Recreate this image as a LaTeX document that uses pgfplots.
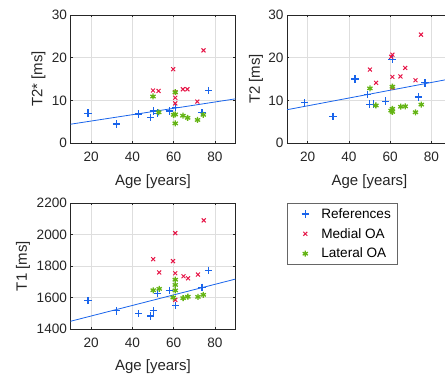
\documentclass[border=0pt]{standalone}
\usepackage{pgfplots}
\pgfplotsset{compat=1.18}
\usepackage{fontspec}
\setmainfont{Liberation Sans}
\definecolor{cref}{RGB}{25,100,235}
\definecolor{cmed}{RGB}{230,20,70}
\definecolor{clat}{RGB}{100,180,20}
\definecolor{axc}{RGB}{38,38,38}
\pgfplotsset{
  myax/.style={
    scale only axis, width=165pt, height=128pt,
    xmin=10, xmax=90, xtick={20,40,60,80},
    anchor=south west,
    grid=major, major grid style={black!13, line width=0.6pt},
    axis line style={axc, line width=0.6pt},
    tick style={axc, line width=0.6pt}, tick align=inside, major tick length=2pt,
    ticklabel style={font=\fontsize{13.6}{16}\selectfont, text=axc},
    xticklabel style={yshift=-5pt},
    label style={font=\fontsize{15}{18}\selectfont, text=axc},
    xlabel={Age [years]},
    xlabel style={at={(axis description cs:0.5,-0.30)}, anchor=center},
    /pgf/number format/assume math mode=true,
    scaled y ticks=false,
    /pgf/number format/1000 sep={},
  },
  legimg/.style={legend image code/.code={\path[draw=none,fill=none] (-14pt,-5pt) rectangle (14pt,5pt); \draw[##1] plot coordinates {(0pt,0pt)};}},
  refp/.style={only marks, mark=+, mark size=3.7pt, line width=1.2pt, color=cref, legimg},
  medp/.style={only marks, mark=x, mark size=2.8pt, line width=1pt, color=cmed, legimg},
  latp/.style={only marks, mark=asterisk, mark size=3pt, line width=1.3pt, color=clat, legimg},
  regl/.style={no marks, line width=0.8pt, color=cref, forget plot},
}
\begin{document}
\begin{tikzpicture}
\useasboundingbox (0,0) rectangle (445pt,375pt);
\clip (0,0) rectangle (445pt,375pt);
% T2*
\begin{axis}[myax, at={(70.5pt,232pt)}, ymin=0, ymax=30, ytick={0,10,20,30},
  ylabel={T2* [ms]}, ylabel style={at={(axis description cs:-0.194,0.5)}, anchor=center}]
\addplot[regl] coordinates {(10,4.4) (90,10.35)};
\addplot[refp] coordinates {(18.5,7.0) (32.3,4.45) (43,6.8) (48.9,6.0) (50.1,7.5) (52.1,7.0) (57.9,7.5) (61,8.4) (73.8,7.1) (76.9,12.3)};
\addplot[medp] coordinates {(50,12.3) (52.7,12.2) (59.8,17.3) (60.8,11.9) (60.8,10.6) (60.8,9.3) (64.5,12.6) (66.7,12.6) (71.5,9.7) (74.5,21.7)};
\addplot[latp] coordinates {(50,10.9) (52.8,7.2) (60,6.6) (60.8,11.9) (60.8,6.7) (60.8,4.6) (64.5,6.4) (66.8,5.9) (71.6,5.4) (74.4,6.6)};
\end{axis}
% T2
\begin{axis}[myax, at={(287pt,232pt)}, ymin=0, ymax=30, ytick={0,10,20,30},
  ylabel={T2 [ms]}, ylabel style={at={(axis description cs:-0.188,0.5)}, anchor=center}]
\addplot[regl] coordinates {(10,7.8) (90,15.1)};
\addplot[refp] coordinates {(18.5,9.4) (32.3,6.25) (43,15.0) (48.9,11.3) (50.1,9.1) (52.1,9.1) (57.9,9.8) (61,19.5) (73.8,10.8) (76.9,14.1)};
\addplot[medp] coordinates {(50.2,17.2) (53.2,14.1) (60.5,20.2) (61.1,20.7) (61.1,15.5) (61.1,13.0) (65,15.6) (67.3,17.6) (72.3,14.7) (75,25.4)};
\addplot[latp] coordinates {(50.2,12.8) (53.1,8.8) (60.5,7.6) (61.1,13.2) (61.1,8.0) (61.1,7.3) (65.2,8.5) (67.3,8.6) (72.3,7.2) (75.1,9.0)};
\end{axis}
% T1
\begin{axis}[myax, at={(70.5pt,46pt)}, height=126pt, ymin=1400, ymax=2200, ytick={1400,1600,1800,2000,2200},
  ylabel={T1 [ms]}, ylabel style={at={(axis description cs:-0.288,0.5)}, anchor=center},
  legend style={at={(1,1)}, anchor=north west, xshift=51.5pt, draw=black!60, line width=0.6pt,
    font=\fontsize{13.6}{16}\selectfont, text=black, inner xsep=4pt, inner ysep=3pt, row sep=4.5pt},
  legend cell align=left]
\addplot[regl] coordinates {(10,1449) (90,1717)};
\addplot[refp] coordinates {(18.5,1580) (32.3,1515) (43,1498) (48.9,1483) (50.1,1515) (52.1,1627) (57.9,1646) (61,1551) (73.8,1665) (76.9,1773)};
\addlegendentry{References}
\addplot[medp] coordinates {(50.1,1843) (53,1759) (59.7,1831) (60.8,2009) (60.8,1754) (60.8,1585) (64.8,1735) (67,1722) (71.8,1746) (74.6,2090)};
\addlegendentry{Medial OA}
\addplot[latp] coordinates {(50.1,1646) (53,1655) (59.8,1600) (60.8,1713) (60.8,1680) (60.8,1645) (64.6,1596) (66.9,1605) (71.8,1604) (74.4,1617)};
\addlegendentry{Lateral OA}
\end{axis}
\end{tikzpicture}
\end{document}
